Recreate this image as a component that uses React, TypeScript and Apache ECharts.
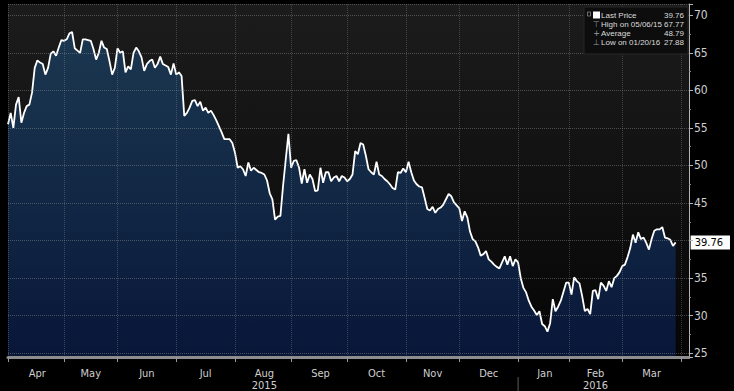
import { useEffect, useRef } from 'react';
import * as echarts from 'echarts';

const START = '2015-04-01';
const END = '2016-04-06';
const holidays = [
  '2015-04-03', '2015-05-25', '2015-07-03', '2015-09-07', '2015-11-26',
  '2015-12-25', '2016-01-01', '2016-01-18', '2016-02-15', '2016-03-25',
];

// daily closes, one per trading day from 2015-04-01
const prices = [
  55.5, 57.0, 55.0, 58.1, 59.1, 55.7, 57.0, 57.9, 58.1, 59.7,
  63.0, 64.0, 63.7, 63.5, 62.1, 63.0, 64.9, 65.2, 64.6, 65.7,
  66.7, 66.6, 66.8, 67.6, 67.77, 65.6, 65.3, 65.0, 66.8, 66.8,
  66.7, 66.6, 65.5, 64.1, 65.0, 66.6, 65.7, 65.5, 63.9, 62.1,
  63.0, 65.6, 65.0, 65.2, 62.4, 63.2, 62.8, 65.0, 65.7, 65.2,
  64.4, 62.6, 63.5, 63.9, 64.1, 63.0, 63.5, 64.5, 63.5, 63.3,
  63.1, 62.1, 63.6, 62.1, 62.4, 61.9, 56.6, 57.0, 57.7, 58.6,
  58.7, 57.9, 58.5, 57.3, 57.7, 57.0, 57.3, 56.7, 56.0, 55.2,
  54.4, 53.5, 53.5, 53.5, 53.0, 51.7, 49.7, 49.9, 49.5, 48.6,
  50.4, 49.3, 49.7, 49.4, 49.1, 49.0, 48.8, 48.0, 46.3, 45.5,
  42.8, 43.2, 43.3, 47.3, 50.8, 54.2, 49.7, 50.6, 50.7, 49.7,
  47.6, 49.5, 47.7, 48.8, 48.2, 46.6, 46.7, 49.7, 47.7, 49.1,
  49.1, 47.9, 48.4, 48.6, 47.9, 48.6, 48.4, 47.9, 48.2, 48.8,
  51.9, 51.5, 53.0, 52.8, 51.3, 49.5, 49.1, 48.8, 50.5, 48.8,
  48.6, 48.2, 47.9, 47.5, 47.0, 46.8, 49.1, 49.0, 49.6, 49.1,
  50.5, 49.1, 48.0, 47.5, 47.2, 47.1, 45.7, 44.2, 44.0, 44.5,
  43.7, 44.2, 44.4, 44.8, 45.5, 46.2, 45.9, 45.1, 44.7, 44.3,
  42.6, 43.9, 43.1, 41.2, 40.2, 39.9, 39.1, 38.0, 38.2, 38.6,
  37.5, 37.2, 36.8, 36.5, 36.3, 37.1, 37.9, 36.8, 37.9, 36.6,
  37.5, 37.1, 35.0, 33.7, 33.1, 32.0, 31.2, 30.7, 30.1, 30.6,
  28.9, 28.6, 27.88, 29.0, 32.2, 30.6, 31.2, 32.0, 33.2, 34.4,
  34.4, 32.8, 35.1, 34.6, 34.3, 32.6, 30.6, 30.9, 30.2, 33.3,
  33.4, 32.2, 34.4, 34.0, 33.3, 34.6, 33.8, 35.0, 35.3, 35.8,
  36.6, 36.8, 37.8, 39.0, 40.8, 39.7, 41.1, 40.2, 40.4, 39.7,
  38.8, 40.2, 41.3, 41.5, 41.5, 41.8, 40.4, 40.3, 40.1, 39.3,
  39.76,
];

const months = ['Apr', 'May', 'Jun', 'Jul', 'Aug', 'Sep', 'Oct', 'Nov', 'Dec', 'Jan', 'Feb', 'Mar'];
const yearUnder = ['', '', '', '', '2015', '', '', '', '', '', '2016', ''];

const legendLabels = ['Last Price', 'High on 05/06/15', 'Average', 'Low on 01/20/16'];
const legendValues = ['39.76', '67.77', '48.79', '27.88'];
const legendIcons = ['', '\u22A4', '+', '\u22A5'];

const Y_MIN = 24.5;
const Y_MAX = 71.5;
const HIDDEN_TICK_LABEL = 40; // covered by the last-price tag in the reference

const FONT = "'Liberation Sans Narrow', 'DejaVu Sans Condensed', 'Liberation Sans', sans-serif";
const SMALL_FONT = "'Liberation Sans', 'Roboto', sans-serif";

function tradingDays(start: string, end: string, hol: string[]): string[] {
  const out: string[] = [];
  const d = new Date(start + 'T00:00:00Z');
  const e = new Date(end + 'T00:00:00Z');
  while (d <= e) {
    const wd = d.getUTCDay();
    const s = d.toISOString().slice(0, 10);
    if (wd !== 0 && wd !== 6 && !hol.includes(s)) out.push(s);
    d.setUTCDate(d.getUTCDate() + 1);
  }
  return out;
}

export default function App() {
  const ref = useRef<HTMLDivElement>(null);

  useEffect(() => {
    if (!ref.current) return;
    const chart = echarts.init(ref.current, undefined, { renderer: 'svg' });

    const dates = tradingDays(START, END, holidays);
    const monthStarts: number[] = [];
    dates.forEach((d, i) => {
      if (i === 0 || d.slice(0, 7) !== dates[i - 1].slice(0, 7)) monthStarts.push(i);
    });
    const startSet = new Set(monthStarts);
    const labelMap = new Map<number, string>();
    for (let m = 0; m < months.length; m++) {
      const a = monthStarts[m];
      const b = monthStarts[m + 1] !== undefined ? monthStarts[m + 1] : dates.length - 1;
      const mid = Math.round((a + b) / 2);
      labelMap.set(mid, months[m] + (yearUnder[m] ? '\n' + yearUnder[m] : ''));
    }

    chart.setOption({
      animation: false,
      backgroundColor: '#000000',
      grid: {
        left: 8,
        right: 45,
        top: 4,
        bottom: 33,
        show: true,
        borderWidth: 0,
        backgroundColor: new echarts.graphic.LinearGradient(0, 0, 0, 1, [
          { offset: 0, color: '#1c1c1c' },
          { offset: 0.5, color: '#111111' },
          { offset: 1, color: '#050505' },
        ]),
      },
      xAxis: {
        type: 'category',
        data: dates,
        boundaryGap: false,
        z: 5,
        axisLine: { show: true, lineStyle: { color: '#8d8d8d', width: 3 } },
        axisTick: {
          show: true,
          interval: (i: number) => startSet.has(i),
          length: 5,
          lineStyle: { color: '#9a9a9a' },
        },
        axisLabel: {
          show: true,
          interval: (i: number) => labelMap.has(i),
          formatter: (_v: string, i: number) => labelMap.get(i) || '',
          color: '#cfcfcf',
          fontFamily: FONT,
          fontSize: 11,
          lineHeight: 12,
          margin: 10,
        },
        splitLine: {
          show: true,
          interval: (i: number) => startSet.has(i),
          lineStyle: { color: 'rgba(150,150,150,0.35)', type: 'dotted', width: 1 },
        },
      },
      yAxis: {
        type: 'value',
        position: 'right',
        min: Y_MIN,
        max: Y_MAX,
        splitNumber: 9,
        z: 5,
        axisLine: { show: true, lineStyle: { color: '#b5b5b5', width: 1 } },
        axisTick: { show: true, length: 4, lineStyle: { color: '#b5b5b5' } },
        minorTick: { show: true, splitNumber: 2, length: 2, lineStyle: { color: '#8a8a8a' } },
        axisLabel: {
          color: '#cfcfcf',
          fontFamily: FONT,
          fontSize: 12,
          margin: 5,
          showMinLabel: false,
          showMaxLabel: false,
          formatter: (v: number) => (v === HIDDEN_TICK_LABEL ? '' : String(v)),
        },
        splitLine: {
          show: true,
          lineStyle: { color: 'rgba(160,160,160,0.4)', type: 'dotted', width: 1 },
        },
      },
      series: [
        {
          type: 'line',
          data: prices,
          showSymbol: false,
          symbol: 'none',
          lineStyle: { color: '#ffffff', width: 1.8 },
          areaStyle: {
            origin: 'start',
            color: new echarts.graphic.LinearGradient(0, 0, 0, 1, [
              { offset: 0, color: '#1c4367' },
              { offset: 0.55, color: '#11305a' },
              { offset: 1, color: '#0a1d4e' },
            ]),
          },
          endLabel: {
            show: true,
            formatter: (p: any) => Number(p.value).toFixed(2),
            backgroundColor: '#ffffff',
            color: '#000000',
            fontFamily: FONT,
            fontSize: 11,
            padding: [2, 7, 1, 4],
            distance: 15,
          },
          z: 3,
        },
      ],
    });

    const divX = chart.convertToPixel({ xAxisIndex: 0 }, monthStarts[9]) as number;

    const graphic: any[] = [
      {
        type: 'rect',
        shape: { x: 584, y: 7, width: 104, height: 47 },
        style: { fill: '#0d0d0d', stroke: '#262626', lineWidth: 1 },
        z: 100,
      },
      {
        type: 'rect',
        shape: { x: 593, y: 11.5, width: 7, height: 7 },
        style: { fill: '#ffffff' },
        z: 101,
      },
      {
        type: 'rect',
        shape: { x: 587.5, y: 12, width: 3, height: 4 },
        style: { fill: 'none', stroke: '#888888', lineWidth: 0.8 },
        z: 101,
      },
      {
        type: 'line',
        shape: { x1: divX, y1: 377, x2: divX, y2: 391 },
        style: { stroke: '#5a5a5a', lineWidth: 1 },
        z: 100,
      },
    ];
    legendLabels.forEach((lab, k) => {
      const y = 15 + k * 9;
      graphic.push({
        type: 'text',
        x: 601,
        y,
        style: { text: lab, fill: '#dcdcdc', font: `8px ${SMALL_FONT}`, verticalAlign: 'middle', align: 'left' },
        z: 101,
      });
      graphic.push({
        type: 'text',
        x: 684,
        y,
        style: { text: legendValues[k], fill: '#dcdcdc', font: `8px ${SMALL_FONT}`, verticalAlign: 'middle', align: 'right' },
        z: 101,
      });
      if (legendIcons[k]) {
        graphic.push({
          type: 'text',
          x: 596.5,
          y,
          style: { text: legendIcons[k], fill: '#9a9a9a', font: `8px 'DejaVu Sans', sans-serif`, verticalAlign: 'middle', align: 'center' },
          z: 101,
        });
      }
    });
    chart.setOption({ graphic });

    return () => chart.dispose();
  }, []);

  return (
    <div
      ref={ref}
      style={{ position: 'absolute', left: 0, top: 0, width: 734, height: 391, background: '#000' }}
    />
  );
}
